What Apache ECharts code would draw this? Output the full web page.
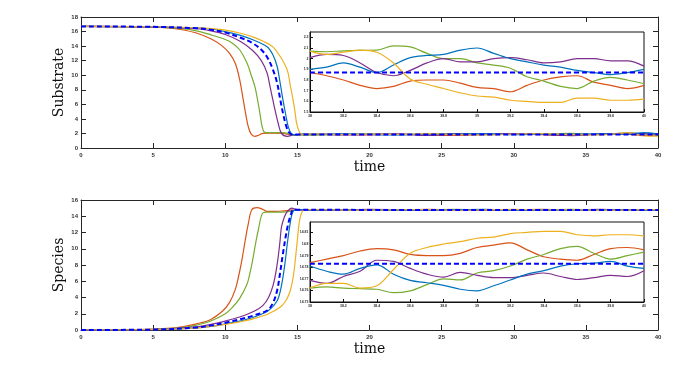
<!DOCTYPE html>
<html>
<head>
<meta charset="utf-8">
<script src="https://cdn.jsdelivr.net/npm/echarts@6/dist/echarts.min.js"></script>
<style>
  html, body { margin: 0; padding: 0; background: #fff; }
  #chart { width: 697px; height: 367px; }
</style>
</head>
<body>
<div id="chart"></div>
<script>
// colori stile MATLAB
const colors = {
  blue: "#0072BD",
  red: "#D95319",
  yellow: "#EDB120",
  purple: "#7E2F8E",
  green: "#77AC30",
  mean: "#0000FF"
};

// Substrate (grafico superiore), coppie [tempo, valore]
const subRed = [[0,16.7],[3,16.66],[5,16.6],[6,16.5],[7,16.25],[8,15.8],[9,15.0],[9.8,14.0],[10.3,13.0],[10.7,11.6],[11,9.4],[11.25,6.6],[11.45,4.3],[11.6,2.9],[11.8,1.9],[12.05,1.6],[12.3,1.75],[12.6,2.0],[13,2.05],[13.5,2.05],[14,2.0],[14.4,1.85],[15,1.8],[16,1.83],[18,1.9],[20,1.8],[22,1.92],[24,1.78],[26,1.74],[28,1.86],[30,1.94],[32,1.82],[34,1.72],[36,1.9],[38,1.87],[39,1.73],[40,1.75]];
const subGreen = [[0,16.7],[5,16.62],[7,16.4],[8,16.1],[9,15.55],[10,14.9],[10.5,14.4],[11,13.5],[11.5,11.7],[11.8,10.0],[12.06,8.4],[12.25,6.5],[12.4,4.8],[12.55,3.0],[12.7,2.2],[13,2.1],[14,2.1],[14.5,1.95],[15,1.8],[16,1.78],[18,1.85],[20,1.95],[22,1.84],[24,1.9],[26,1.98],[28,1.82],[30,1.88],[32,1.96],[34,2.02],[36,1.85],[38,2.07],[39,1.96],[40,1.765]];
const subPurple = [[0,16.7],[5,16.64],[8,16.4],[9,16.1],[10,15.6],[11,14.7],[11.9,13.4],[12.5,12.0],[12.9,10.3],[13.1,8.5],[13.3,6.6],[13.5,4.8],[13.67,3.4],[13.9,2.0],[14.3,1.6],[14.7,1.8],[15,1.85],[16,1.92],[18,1.8],[20,1.88],[22,1.96],[24,1.72],[26,1.94],[28,1.9],[30,1.98],[32,1.86],[34,1.7],[36,1.94],[38,2.01],[39,1.97],[40,1.93]];
const subBlue = [[0,16.7],[5,16.66],[8,16.5],[9,16.35],[10,16.0],[11,15.5],[12,14.8],[12.9,13.9],[13.3,12.8],[13.6,11.2],[13.8,9.0],[14,6.6],[14.2,4.5],[14.37,2.9],[14.6,1.9],[14.8,1.8],[15.2,1.9],[16,1.9],[18,1.95],[20,1.86],[22,1.8],[24,1.93],[26,1.9],[28,1.98],[30,1.84],[32,1.92],[34,1.88],[36,1.95],[38,1.9],[39,2.1],[40,1.9]];
const subYellow = [[0,16.7],[5,16.66],[8,16.5],[9,16.4],[10,16.2],[11,15.8],[12,15.2],[12.7,14.6],[13.3,13.9],[13.8,12.6],[14.3,10.7],[14.5,8.7],[14.7,6.6],[14.85,4.8],[14.95,3.4],[15.2,2.0],[15.5,1.85],[16,1.95],[18,1.84],[20,1.9],[22,1.86],[24,1.98],[26,1.85],[28,1.8],[30,1.9],[32,1.98],[34,1.85],[36,1.8],[38,2.07],[39,1.65],[40,1.62]];
const subMean = [[0,16.7],[5,16.65],[8,16.45],[9,16.25],[10,15.85],[11,15.2],[11.9,14.4],[12.5,13.5],[12.9,12.5],[13.3,10.8],[13.6,8.9],[13.8,6.8],[14,4.8],[14.2,3.2],[14.4,2.2],[14.7,1.85],[15,1.87],[20,1.87],[25,1.87],[30,1.87],[35,1.87],[40,1.87]];

// Species (grafico inferiore)
const spRed = [[0,0],[4,0.05],[6,0.2],[7,0.4],[8,0.75],[9,1.3],[9.8,2.3],[10.3,3.4],[10.7,5.0],[10.9,6.4],[11.1,8.1],[11.25,9.6],[11.45,11.7],[11.6,13.1],[11.84,14.8],[12.2,15.05],[12.6,14.85],[12.9,14.6],[13.5,14.6],[14,14.65],[14.5,14.75],[15,14.8],[16,14.8],[18,14.74],[20,14.82],[22,14.76],[24,14.84],[26,14.78],[28,14.72],[30,14.8],[32,14.85],[34,14.76],[36,14.8],[38,14.784],[39,14.797],[40,14.795]];
const spGreen = [[0,0],[5,0.08],[7,0.3],[8,0.6],[9,1.1],[10,2.0],[10.5,2.8],[11,3.9],[11.5,5.6],[11.7,6.9],[11.9,8.6],[12.1,10.6],[12.3,12.4],[12.6,14.4],[12.9,14.5],[14,14.5],[14.5,14.6],[15,14.8],[16,14.75],[18,14.82],[20,14.78],[22,14.72],[24,14.8],[26,14.85],[28,14.78],[30,14.74],[32,14.8],[34,14.86],[36,14.78],[38,14.762],[39,14.775],[40,14.793]];
const spPurple = [[0,0],[5,0.06],[8,0.4],[9,0.7],[10,1.1],[11,1.6],[12,2.3],[12.6,3.0],[13,4.0],[13.3,5.4],[13.5,7.0],[13.67,9.0],[13.8,11.0],[13.9,12.7],[14.1,13.9],[14.3,14.56],[14.6,15.0],[14.9,14.85],[15.3,14.75],[16,14.72],[18,14.78],[20,14.84],[22,14.8],[24,14.74],[26,14.76],[28,14.82],[30,14.8],[32,14.72],[34,14.78],[36,14.84],[38,14.769],[39,14.773],[40,14.777]];
const spBlue = [[0,0],[5,0.04],[8,0.25],[9,0.45],[10,0.75],[11,1.1],[12,1.6],[13,2.4],[13.6,3.6],[13.9,5.5],[14.14,8.2],[14.3,10.6],[14.5,13.1],[14.7,14.6],[15,14.8],[16,14.76],[18,14.8],[20,14.74],[22,14.82],[24,14.77],[26,14.8],[28,14.84],[30,14.76],[32,14.79],[34,14.73],[36,14.8],[38,14.781],[39,14.76],[40,14.779]];
const spYellow = [[0,0],[5,0.04],[8,0.25],[9,0.45],[10,0.7],[11,1.0],[12,1.4],[13,2.0],[13.8,2.8],[14.2,3.6],[14.5,4.8],[14.7,6.4],[14.85,8.5],[15,11.1],[15.2,13.9],[15.5,14.8],[16,14.82],[18,14.78],[20,14.75],[22,14.8],[24,14.83],[26,14.74],[28,14.79],[30,14.84],[32,14.77],[34,14.8],[36,14.75],[38,14.762],[39,14.805],[40,14.807]];
const spMean = [[0,0],[5,0.05],[8,0.3],[9,0.55],[10,0.9],[11,1.3],[12,1.8],[12.9,2.4],[13.3,3.3],[13.6,4.9],[13.8,7.0],[14,9.4],[14.2,11.6],[14.37,13.1],[14.55,14.2],[14.7,14.8],[15,14.8],[20,14.783],[25,14.783],[30,14.783],[35,14.783],[40,14.783]];

// Riquadri di zoom (t = 38..40)
const insetTime = [38,38.1,38.2,38.3,38.4,38.5,38.6,38.7,38.8,38.9,39,39.1,39.2,39.3,39.4,39.5,39.6,39.7,39.8,39.9,40];
const inSubRed = [1.87,1.84,1.80,1.75,1.72,1.74,1.79,1.80,1.80,1.77,1.73,1.72,1.69,1.75,1.80,1.83,1.84,1.78,1.75,1.72,1.75];
const inSubGreen = [2.07,2.065,2.073,2.078,2.08,2.12,2.11,2.05,2.0,2.0,1.96,1.94,1.91,1.83,1.79,1.74,1.72,1.79,1.825,1.80,1.765];
const inSubBlue = [1.90,1.92,1.96,1.92,1.87,1.94,2.01,2.03,2.04,2.08,2.10,2.05,2.00,1.97,1.94,1.92,1.89,1.87,1.85,1.87,1.90];
const inSubPurple = [2.01,2.04,2.03,1.96,1.87,1.84,1.89,1.96,2.0,1.97,1.97,2.0,2.01,1.99,1.96,1.97,2.0,2.0,1.98,1.98,1.93];
const inSubYellow = [2.07,2.04,2.06,2.08,2.06,1.96,1.81,1.76,1.72,1.68,1.65,1.64,1.61,1.60,1.59,1.59,1.63,1.63,1.61,1.61,1.62];
const inSubMean = [1.871,1.871,1.871,1.871,1.871,1.871,1.871,1.871,1.871,1.871,1.871,1.871,1.871,1.871,1.871,1.871,1.871,1.871,1.871,1.871,1.871];

const inSpRed = [14.784,14.787,14.790,14.794,14.796,14.795,14.791,14.790,14.790,14.792,14.797,14.799,14.801,14.795,14.789,14.787,14.786,14.791,14.796,14.797,14.795];
const inSpGreen = [14.762,14.763,14.762,14.7615,14.761,14.758,14.7596,14.765,14.770,14.769,14.775,14.777,14.781,14.787,14.791,14.796,14.798,14.792,14.787,14.790,14.793];
const inSpBlue = [14.781,14.7765,14.774,14.779,14.782,14.774,14.7686,14.7666,14.7644,14.761,14.7596,14.764,14.769,14.774,14.777,14.781,14.783,14.7835,14.785,14.781,14.779];
const inSpPurple = [14.7686,14.766,14.772,14.7765,14.786,14.785,14.779,14.774,14.7714,14.7756,14.773,14.771,14.771,14.773,14.775,14.772,14.7694,14.771,14.773,14.772,14.777];
const inSpYellow = [14.762,14.766,14.766,14.762,14.764,14.778,14.792,14.797,14.800,14.802,14.805,14.806,14.809,14.810,14.811,14.811,14.808,14.807,14.808,14.808,14.807];
const inSpMean = [14.783,14.783,14.783,14.783,14.783,14.783,14.783,14.783,14.783,14.783,14.783,14.783,14.783,14.783,14.783,14.783,14.783,14.783,14.783,14.783,14.783];

const zipInset = values => insetTime.map((t, i) => [t, values[i]]);

const axisColor = "#262626";
const serif = "DejaVu Serif";
const tickFont = "Liberation Sans";

// assi principali
function mainXAxis(gridIndex, position, withLabels) {
  return {
    type: "value", gridIndex, position, min: 0, max: 40, interval: 5,
    name: withLabels ? "time" : "",
    nameLocation: "middle", nameGap: 12, nameMoveOverlap: false,
    nameTextStyle: { fontFamily: serif, fontSize: 14, color: "#111" },
    axisLine: { show: true, onZero: false, lineStyle: { color: axisColor, width: 1 } },
    axisTick: { show: true, inside: true, length: 5, lineStyle: { color: axisColor } },
    axisLabel: { show: withLabels, fontSize: 6, fontWeight: "bold", color: "#333", margin: 4, fontFamily: tickFont },
    splitLine: { show: false }
  };
}

function mainYAxis(gridIndex, position, max, name) {
  return {
    type: "value", gridIndex, position, min: 0, max, interval: 2,
    name: name || "",
    nameLocation: "middle", nameGap: 15, nameMoveOverlap: false,
    nameTextStyle: { fontFamily: serif, fontSize: 14, color: "#111" },
    axisLine: { show: true, onZero: false, lineStyle: { color: axisColor, width: 1 } },
    axisTick: { show: true, inside: true, length: 5, lineStyle: { color: axisColor } },
    axisLabel: { show: !!name, fontSize: 6, fontWeight: "bold", color: "#333", margin: 3, fontFamily: tickFont },
    splitLine: { show: false }
  };
}

function insetXAxis(gridIndex) {
  return {
    type: "value", gridIndex, min: 38, max: 40, interval: 0.2, zlevel: 1,
    axisLine: { show: true, onZero: false, lineStyle: { color: "#111", width: 1 } },
    axisTick: { show: true, inside: true, length: 3, lineStyle: { color: "#111" } },
    axisLabel: { fontSize: 3.5, fontWeight: "bold", color: "#333", margin: 2, fontFamily: tickFont },
    splitLine: { show: false }
  };
}

function insetYAxis(gridIndex, min, max, interval) {
  return {
    type: "value", gridIndex, min, max, interval, zlevel: 1,
    axisLine: { show: true, onZero: false, lineStyle: { color: "#111", width: 1 } },
    axisTick: { show: true, inside: true, length: 3, lineStyle: { color: "#111" } },
    axisLabel: { fontSize: 3.5, fontWeight: "bold", color: "#333", margin: 1.5, showMaxLabel: false, fontFamily: tickFont },
    splitLine: { show: false }
  };
}

function createSeries(data, color, axisIndex, dashed, zlevel = 0) {
  return {
    type: "line",
    data,
    xAxisIndex: axisIndex[0],
    yAxisIndex: axisIndex[1],
    showSymbol: false,
    smooth: 0.35,
    zlevel,
    z: dashed ? 5 : 3,
    lineStyle: dashed
      ? { color, width: 2, type: [5, 3] }
      : { color, width: 1.2 },
    animation: false
  };
}

function group(list, axisIndex, zlevel) {
  const cols = [colors.red, colors.green, colors.purple, colors.blue, colors.yellow, colors.mean];
  return list.map((d, i) => createSeries(d, cols[i], axisIndex, i === 5, zlevel));
}

const option = {
  backgroundColor: "#fff",
  animation: false,
  grid: [
    { left: 81, right: 39, top: 17, bottom: 219 },
    { left: 81, right: 39, top: 200, bottom: 37 },
    { left: 310, right: 53, top: 32, bottom: 255, show: true, backgroundColor: "#fff", borderColor: "#111", borderWidth: 1, zlevel: 1 },
    { left: 310, right: 53, top: 222, bottom: 65, show: true, backgroundColor: "#fff", borderColor: "#111", borderWidth: 1, zlevel: 1 }
  ],
  xAxis: [
    mainXAxis(0, "bottom", true),
    mainXAxis(0, "top", false),
    mainXAxis(1, "bottom", true),
    mainXAxis(1, "top", false),
    insetXAxis(2),
    insetXAxis(3)
  ],
  yAxis: [
    mainYAxis(0, "left", 18, "Substrate"),
    mainYAxis(0, "right", 18),
    mainYAxis(1, "left", 16, "Species"),
    mainYAxis(1, "right", 16),
    insetYAxis(2, 1.5, 2.25, 0.1),
    insetYAxis(3, 14.75, 14.819, 0.01)
  ],
  series: [
    ...group([subRed, subGreen, subPurple, subBlue, subYellow, subMean], [0, 0], 0),
    ...group([spRed, spGreen, spPurple, spBlue, spYellow, spMean], [2, 2], 0),
    ...group([inSubRed, inSubGreen, inSubPurple, inSubBlue, inSubYellow, inSubMean].map(zipInset), [4, 4], 1),
    ...group([inSpRed, inSpGreen, inSpPurple, inSpBlue, inSpYellow, inSpMean].map(zipInset), [5, 5], 1)
  ]
};

const chart = echarts.init(document.getElementById("chart"));
chart.setOption(option);
</script>
</body>
</html>
